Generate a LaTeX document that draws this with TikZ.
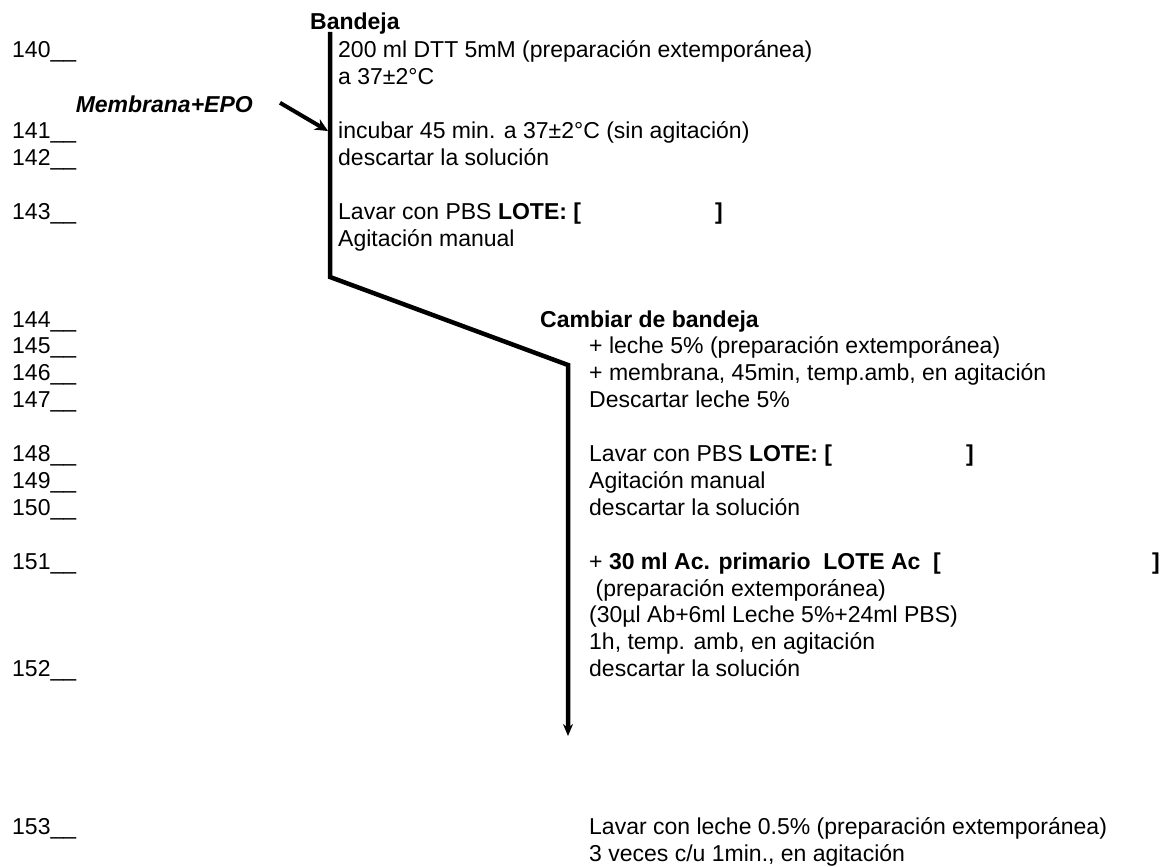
\documentclass[tikz,border=0pt]{standalone}
\usepackage{fontspec}
\setmainfont{Liberation Sans}
\usetikzlibrary{arrows.meta}

\begin{document}
\begin{tikzpicture}[x=1pt, y=-1pt,
    txt/.style={anchor=base west, inner sep=0pt, align=left,
        font=\fontsize{23}{26.9}\selectfont},
    flow/.style={line width=4.5pt, line join=miter}]
    \useasboundingbox (0,0) rectangle (1168,867);

    % Step numbers
    \foreach \num/\slot in {140/0, 141/3, 142/4, 143/6, 144/10, 145/11, 146/12,
        147/13, 148/15, 149/16, 150/17, 151/19, 152/23, 153/28.85}
        \node[txt] (s\num) at (12, {58+26.9*\slot}) {\num\_\_};

    % First tray (multi-line nodes are placed by the baseline of their last line)
    \node[txt] (tray) at (310, 30) {\textbf{Bandeja}};
    \node[txt] (dtt) at (338, 84.9) {200 ml DTT 5mM (preparación extemporánea)\\a 37±2°C};
    \node[txt, anchor=base east] (memb) at (253, 112) {\textbf{\textit{Membrana+EPO}}};
    \node[txt] (incub) at (338, 165.6) {incubar 45 min. a 37±2°C (sin agitación)\\descartar la solución};
    \node[txt] (wash1) at (338, 246.3) {\makebox[377pt][l]{Lavar con PBS \textbf{LOTE: [}}\textbf{]}\\Agitación manual};

    % Second tray
    \node[txt] (change) at (540, 327) {\textbf{Cambiar de bandeja}};
    \node[txt] (milk) at (589, 407.7) {+ leche 5\% (preparación extemporánea)\\+ membrana, 45min, temp.amb, en agitación\\Descartar leche 5\%};
    \node[txt] (wash2) at (589, 515.3) {\makebox[377pt][l]{Lavar con PBS \textbf{LOTE: [}}\textbf{]}\\Agitación manual\\descartar la solución};
    \node[txt] (prim) at (589, 676.7) {\makebox[563pt][l]{+ \textbf{30 ml Ac. primario\ \ LOTE Ac\ \ [}}\textbf{]}\\\ (preparación extemporánea)\\(30µl Ab+6ml Leche 5\%+24ml PBS)\\1h, temp. amb, en agitación\\descartar la solución};
    \node[txt] (wash3) at (589, 861) {Lavar con leche 0.5\% (preparación extemporánea)\\3 veces c/u 1min., en agitación};

    % Flow line
    \coordinate (top) at (330, 32);
    \coordinate (bend1) at (330, 277);
    \coordinate (bend2) at (568, 365);
    \coordinate (tip) at (568, 736);
    \coordinate (hit) at (328, 131);
    \draw[flow, -{Stealth[length=12pt, width=10pt]}] (top) -- (bend1) -- (bend2) -- (tip);
    \draw[line width=4pt, -{Stealth[length=13pt, width=12pt]}] (memb.east) ++(27, -1) -- (hit);
\end{tikzpicture}
\end{document}
